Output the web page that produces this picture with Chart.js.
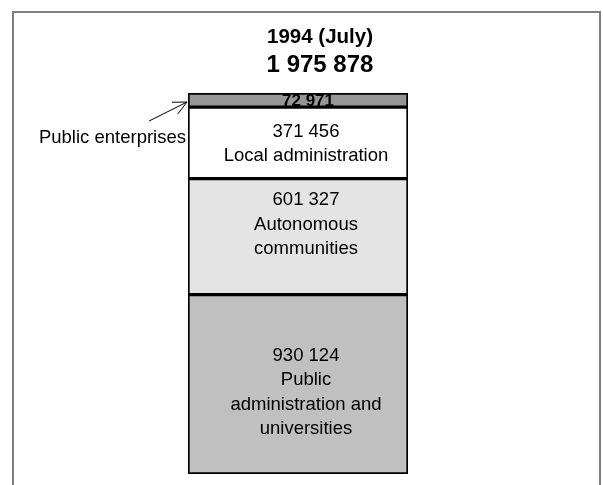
<!DOCTYPE html>
<html>
<head>
<meta charset="utf-8">
<script src="https://cdn.jsdelivr.net/npm/chart.js@4/dist/chart.umd.min.js"></script>
<style>
  html, body { margin: 0; padding: 0; background: #fff; }
  #wrap { position: relative; width: 603px; height: 485px; }
</style>
</head>
<body>
<div id="wrap"><canvas id="staffChart" width="603" height="485"></canvas></div>
<script>
// one stacked column, bottom segment first
const period = '1994 (July)';
const totalLabel = '1 975 878';
const segmentNames = ['Public administration and universities', 'Autonomous communities', 'Local administration', 'Public enterprises'];
const segmentValues = [930124, 601327, 371456, 72971];
const segmentText = [
    ['930 124', 'Public', 'administration and', 'universities'],
    ['601 327', 'Autonomous', 'communities'],
    ['371 456', 'Local administration'],
    ['72 971']
];
const segmentColors = ['#c0c0c0', '#e4e4e4', '#ffffff', '#969696'];

const FONT = '"Liberation Sans", Arial, sans-serif';
const total = segmentValues.reduce((a, b) => a + b, 0);
// text block nudges inside each segment (the source placed its boxes by hand)
const textShift = [8, -12, 1, 0];

const labelsPlugin = {
    id: 'segmentLabels',
    beforeDraw(chart) {
        const ctx = chart.ctx;
        ctx.save();
        // outer frame
        ctx.strokeStyle = '#808080';
        ctx.lineWidth = 2;
        ctx.strokeRect(13, 12, 587, 500);
        // titles
        ctx.fillStyle = '#000';
        ctx.textAlign = 'center';
        ctx.textBaseline = 'alphabetic';
        ctx.font = 'bold 20.5px ' + FONT;
        ctx.fillText(period, 320, 43);
        ctx.font = 'bold 24px ' + FONT;
        ctx.fillText(totalLabel, 320, 72);
        ctx.restore();
    },
    afterDatasetsDraw(chart) {
        const ctx = chart.ctx;
        ctx.save();
        ctx.fillStyle = '#000';
        ctx.textAlign = 'center';
        ctx.textBaseline = 'middle';
        chart.data.datasets.forEach((ds, i) => {
            const bar = chart.getDatasetMeta(i).data[0];
            const lines = segmentText[i];
            const cy = (bar.y + bar.base) / 2 + textShift[i];
            const last = i === segmentText.length - 1;
            ctx.save();
            if (last) {
                // the thin segment clips its number like the source does
                ctx.beginPath();
                ctx.rect(bar.x - bar.width / 2, bar.y + 1, bar.width, bar.base - bar.y - 2);
                ctx.clip();
                ctx.font = 'bold 17px ' + FONT;
                ctx.fillText(lines[0], bar.x + 10, cy + 1);
            } else {
                ctx.font = '18.5px ' + FONT;
                const lh = 24.5;
                const y0 = cy - (lines.length - 1) * lh / 2;
                lines.forEach((t, k) => ctx.fillText(t, bar.x + 8, y0 + k * lh));
            }
            ctx.restore();
        });
        // outside label for the thin top segment, with arrow
        const top = chart.getDatasetMeta(segmentValues.length - 1).data[0];
        const left = top.x - top.width / 2;
        ctx.font = '18.5px ' + FONT;
        ctx.textAlign = 'right';
        ctx.textBaseline = 'alphabetic';
        ctx.fillText(segmentNames[segmentNames.length - 1], left - 2, 143);
        const hx = left - 1, hy = (top.y + top.base) / 2 + 2;
        const tx = hx - 38, ty = hy + 19;
        const ang = Math.atan2(hy - ty, hx - tx);
        ctx.strokeStyle = '#000';
        ctx.lineWidth = 1;
        ctx.beginPath();
        ctx.moveTo(tx, ty);
        ctx.lineTo(hx, hy);
        ctx.moveTo(hx - 15 * Math.cos(ang - 0.45), hy - 15 * Math.sin(ang - 0.45));
        ctx.lineTo(hx, hy);
        ctx.lineTo(hx - 15 * Math.cos(ang + 0.45), hy - 15 * Math.sin(ang + 0.45));
        ctx.stroke();
        ctx.restore();
    }
};

new Chart(document.getElementById('staffChart'), {
    type: 'bar',
    data: {
        labels: [period],
        datasets: segmentValues.map((v, i) => ({
            label: segmentNames[i],
            data: [v],
            backgroundColor: segmentColors[i],
            borderColor: '#000',
            borderWidth: 2,
            borderSkipped: false,
            barPercentage: 1,
            categoryPercentage: 1
        }))
    },
    options: {
        responsive: false,
        animation: false,
        layout: { padding: { top: 93, bottom: 11, left: 188, right: 195 } },
        plugins: {
            legend: { display: false },
            tooltip: { enabled: false },
            title: { display: false }
        },
        scales: {
            x: { stacked: true, display: false },
            y: { stacked: true, display: false, min: 0, max: total }
        }
    },
    plugins: [labelsPlugin]
});
</script>
</body>
</html>
